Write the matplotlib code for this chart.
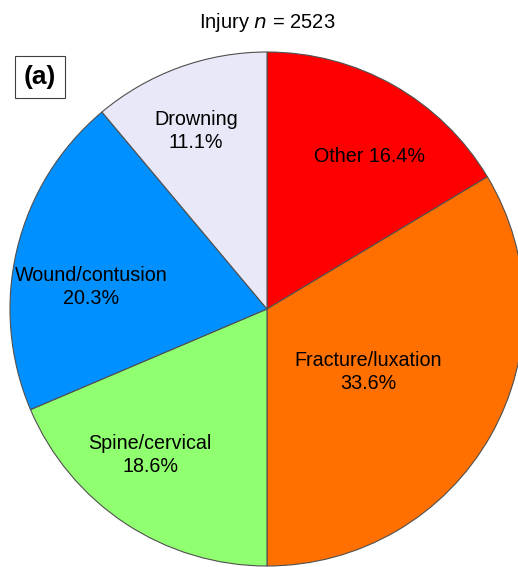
import matplotlib.pyplot as plt

# data
labels = ["Other", "Fracture/luxation", "Spine/cervical", "Wound/contusion", "Drowning"]
shares = [16.4, 33.6, 18.6, 20.3, 11.1]
colors = ["#FF0000", "#FF7000", "#90FF70", "#0090FF", "#E8E8F8"]
label_text = ["Other 16.4%", "Fracture/luxation\n33.6%", "Spine/cervical\n18.6%",
              "Wound/contusion\n20.3%", "Drowning\n11.1%"]
# label anchor points (pixels from top-left)
label_pos = [(370, 157), (368, 372), (150, 455), (91, 287), (196, 131)]

plt.rcParams['font.family'] = ['Liberation Sans', 'DejaVu Sans']

W, H = 518, 567
fig = plt.figure(figsize=(W / 100, H / 100), dpi=100)
ax = fig.add_axes([0, 0, 1, 1])

cx, cy, r = 267, H - 309, 257
ax.pie(shares, colors=colors, startangle=90, counterclock=False,
       center=(cx, cy), radius=r,
       wedgeprops=dict(edgecolor="#505050", linewidth=0.8))
ax.set_xlim(0, W)
ax.set_ylim(0, H)
ax.set_aspect("equal")
ax.axis("off")

for txt, (x, y) in zip(label_text, label_pos):
    ax.text(x, H - y, txt, ha="center", va="center", fontsize=14.2, linespacing=1.3)

ax.text(267, H - 23, "Injury $\\it{n}$ = 2523", ha="center", va="center", fontsize=14.5)
ax.text(40, H - 77, "(a)", ha="center", va="center", fontsize=19, fontweight="bold",
        bbox=dict(boxstyle="square,pad=0.35", facecolor="white", edgecolor="#404040", linewidth=0.8))

fig.savefig("out.png", dpi=100)
